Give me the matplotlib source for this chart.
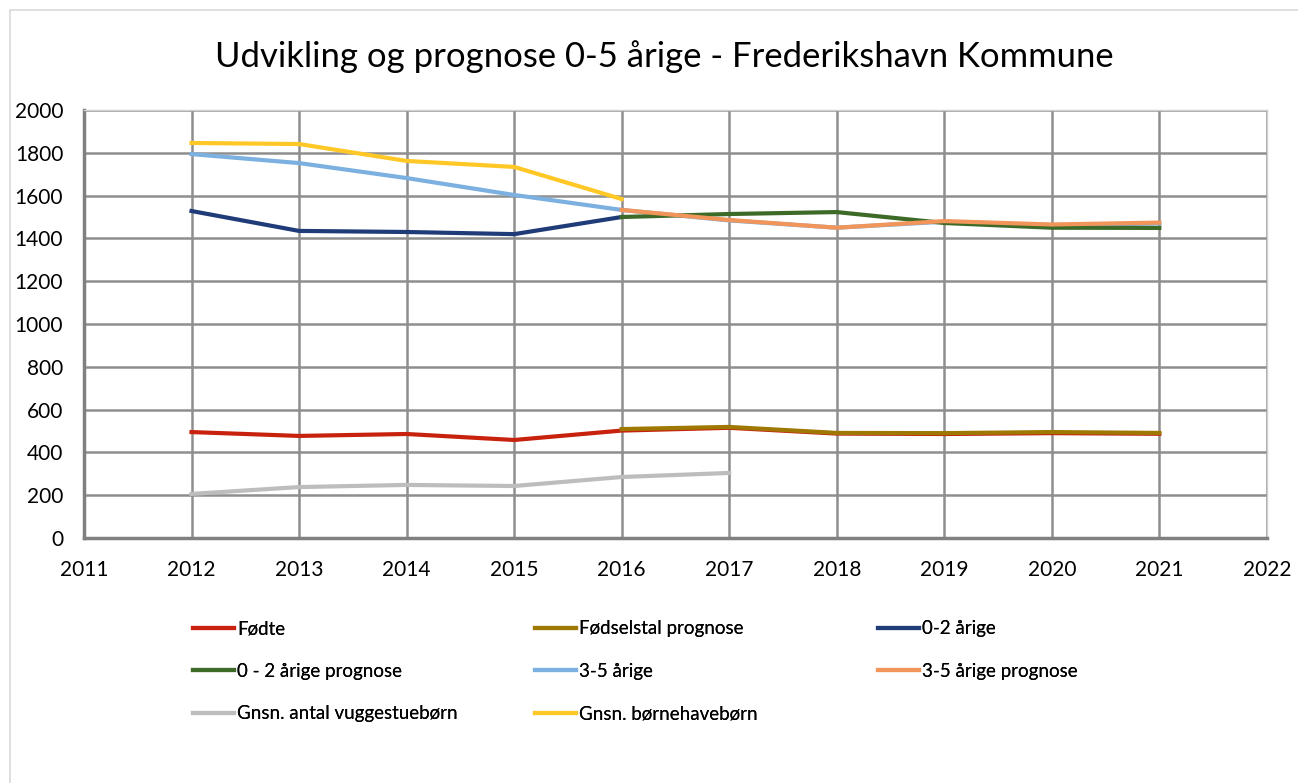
import matplotlib.pyplot as plt
from matplotlib.patches import Rectangle

# data
years_hist = [2012, 2013, 2014, 2015, 2016]
years_prog = [2016, 2017, 2018, 2019, 2020, 2021]
years_all = [2012, 2013, 2014, 2015, 2016, 2017, 2018, 2019, 2020, 2021]
years_vug = [2012, 2013, 2014, 2015, 2016, 2017]

fodte = [495, 477, 486, 458, 502, 515, 488, 486, 490, 487]
fodsel_prognose = [509, 519, 491, 490, 495, 491]
aarige_02 = [1528, 1435, 1430, 1420, 1500]
aarige_02_prognose = [1500, 1514, 1523, 1472, 1450, 1449]
aarige_35 = [1794, 1752, 1682, 1603, 1533, 1484, 1450, 1478, 1462, 1470]
aarige_35_prognose = [1533, 1486, 1450, 1481, 1465, 1474]
vuggestue = [206, 238, 248, 243, 285, 304]
bornehave = [1846, 1841, 1762, 1734, 1584]

x_ticks = list(range(2011, 2023))
y_ticks = list(range(0, 2001, 200))

plt.rcParams['font.family'] = ['Lato', 'DejaVu Sans']

fig = plt.figure(figsize=(12.98, 7.83), dpi=100)
ax = fig.add_axes([0.0647, 0.3129, 0.9113, 0.5466])

# outer chart frame
fig.patches.append(Rectangle((0.008, -0.01), 1.0, 0.997, transform=fig.transFigure,
                             fill=False, edgecolor='#d9d9d9', linewidth=1.2))

lw = 3.0
l_fodte, = ax.plot(years_all, fodte, color='#c8220f', lw=lw, label='Fødte', zorder=3)
l_fprog, = ax.plot(years_prog, fodsel_prognose, color='#9e7800', lw=lw, label='Fødselstal prognose', zorder=4)
l_02, = ax.plot(years_hist, aarige_02, color='#1f3b78', lw=lw, label='0-2 årige', zorder=3)
l_02p, = ax.plot(years_prog, aarige_02_prognose, color='#3d6b27', lw=lw, label='0 - 2 årige prognose', zorder=4)
l_35, = ax.plot(years_all, aarige_35, color='#7cb0e0', lw=lw, label='3-5 årige', zorder=3)
l_35p, = ax.plot(years_prog, aarige_35_prognose, color='#f1955a', lw=lw, label='3-5 årige prognose', zorder=5)
l_vug, = ax.plot(years_vug, vuggestue, color='#bdbdbd', lw=lw, label='Gnsn. antal vuggestuebørn', zorder=3)
l_bh, = ax.plot(years_hist, bornehave, color='#ffc826', lw=lw, label='Gnsn. børnehavebørn', zorder=3)

ax.set_xlim(2011, 2022)
ax.set_ylim(0, 2000)
ax.set_xticks(x_ticks)
ax.set_yticks(y_ticks)
ax.grid(True, color='#8e8e8e', linewidth=1.8)
ax.set_axisbelow(True)
ax.tick_params(length=0, labelsize=15)
ax.tick_params(axis='x', pad=16)
ax.tick_params(axis='y', pad=15)

for side in ['left', 'bottom']:
    ax.spines[side].set_color('#808080')
    ax.spines[side].set_linewidth(2.5)
for side in ['top', 'right']:
    ax.spines[side].set_color('#d0d0d0')
    ax.spines[side].set_linewidth(1.0)

fig.text(0.5116, 0.928, 'Udvikling og prognose 0-5 årige - Frederikshavn Kommune',
         ha='center', va='center', fontsize=24.9)

# legend laid out row by row in three fixed columns, like Excel
columns = [[l_fodte, l_02p, l_vug], [l_fprog, l_35, l_bh], [l_02, l_35p]]
col_x = [0.1487, 0.4122, 0.6764]
for handles, x in zip(columns, col_x):
    leg = fig.legend(handles=handles, labels=[h.get_label() for h in handles],
                     loc='upper left', bbox_to_anchor=(x, 0.208), frameon=False,
                     fontsize=13.5, handlelength=2.2, handletextpad=0.15,
                     labelspacing=1.36, borderpad=0, borderaxespad=0)
    fig.add_artist(leg)

fig.savefig('out.png', dpi=100)
